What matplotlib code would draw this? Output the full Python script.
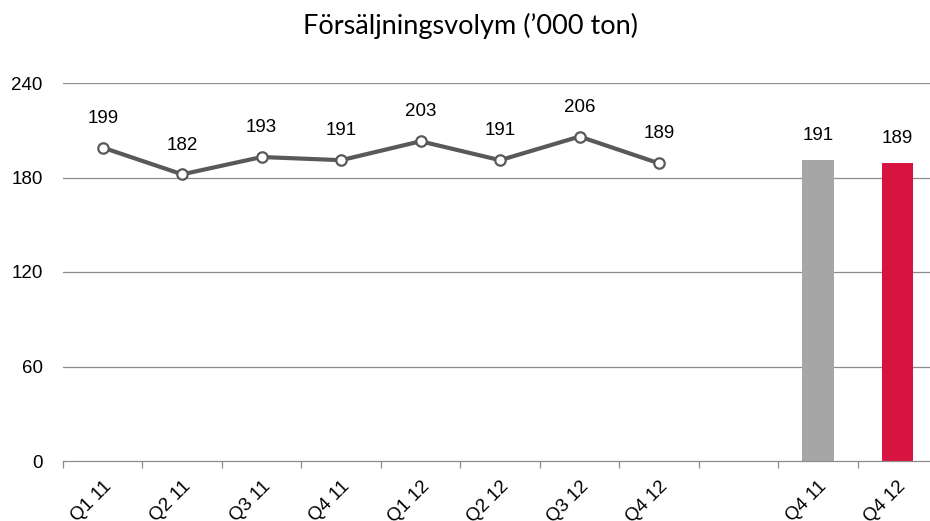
import numpy as np
import matplotlib.pyplot as plt

plt.rcParams['font.family'] = ['Liberation Sans', 'DejaVu Sans']

# data
kategorier = ['Q1 11', 'Q2 11', 'Q3 11', 'Q4 11', 'Q1 12', 'Q2 12', 'Q3 12', 'Q4 12', '', 'Q4 11', 'Q4 12']
linje_varden = [199, 182, 193, 191, 203, 191, 206, 189]
stapel_varden = [191, 189]
stapel_farger = ['#A6A6A6', '#D71440']
y_ticks = [0, 60, 120, 180, 240]

fig = plt.figure(figsize=(9.3, 5.21), dpi=100)
ax = fig.add_axes([63 / 930, 1 - 461 / 521, 1 - 63 / 930, (461 - 83) / 521])

x = np.arange(len(kategorier))

for yv in y_ticks[1:]:
    ax.axhline(yv, color='#8C8C8C', lw=0.9, zorder=0)

# linje
lx = x[:len(linje_varden)]
ax.plot(lx, linje_varden, color='#595959', lw=3, marker='o', ms=7.5,
        mfc='white', mec='#595959', mew=1.6, zorder=3)
for xi, v in zip(lx, linje_varden):
    ax.annotate(str(v), (xi, v), xytext=(0, 15), textcoords='offset points',
                ha='center', va='bottom', fontsize=13.5, color='black')

# staplar
bx = x[9:]
ax.bar(bx, stapel_varden, width=0.4, color=stapel_farger, zorder=2)
for xi, v in zip(bx, stapel_varden):
    ax.annotate(str(v), (xi, v), xytext=(0, 12), textcoords='offset points',
                ha='center', va='bottom', fontsize=13.5, color='black')

ax.set_yticks(y_ticks)
ax.set_yticklabels([str(t) for t in y_ticks], fontsize=13.5)
ax.tick_params(axis='y', length=0, pad=14.5)

ax.set_xticks(x)
ax.set_xticklabels(kategorier, rotation=45, ha='right', rotation_mode='anchor', fontsize=13.5)
ax.tick_params(axis='x', which='major', length=0, pad=12)
ax.set_xticks(np.arange(-0.5, 10.6, 1), minor=True)
ax.tick_params(axis='x', which='minor', length=5, color='#8C8C8C', width=0.9)

# gränser sist, set_xticks utvidgar annars vyn
ax.set_xlim(-0.5, 10.41)
ax.set_ylim(0, 240)

for s in ['top', 'right', 'left']:
    ax.spines[s].set_visible(False)
ax.spines['bottom'].set_color('#8C8C8C')
ax.spines['bottom'].set_linewidth(0.9)

fig.text(470 / 930, 1 - 26 / 521, 'Försäljningsvolym (’000 ton)', ha='center', va='center',
         fontsize=19.5, family=['Lato', 'DejaVu Sans'])

fig.savefig('out.png', dpi=100)
